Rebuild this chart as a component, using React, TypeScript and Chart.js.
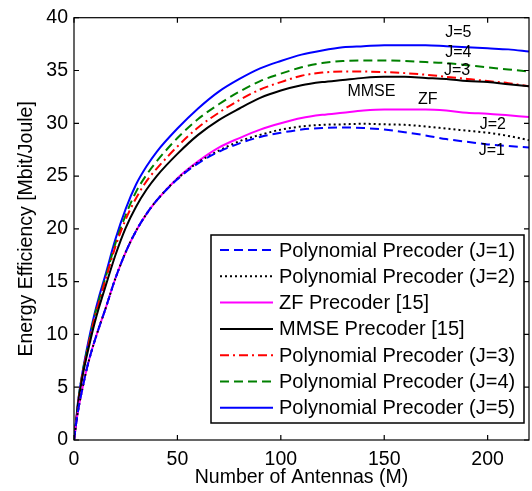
import { useEffect, useRef } from "react";
import { Chart, registerables } from "chart.js";

Chart.register(...registerables);

const antennas = [0, 1, 2, 4, 6, 8, 10, 12, 15, 20, 25, 30, 35, 40, 50, 60, 70, 80, 90, 100, 110, 120, 130, 140, 150, 160, 170, 180, 190, 200, 210, 220];

const polyJ1 = [0, 1.5, 2.8, 4.8, 6.6, 8.1, 9.4, 10.6, 12.3, 15.3, 17.8, 19.8, 21.4, 22.7, 24.7, 26.2, 27.3, 28.1, 28.7, 29.1, 29.4, 29.55, 29.6, 29.55, 29.4, 29.15, 28.85, 28.5, 28.25, 28.0, 27.85, 27.7];
const polyJ2 = [0, 1.5, 2.8, 4.8, 6.6, 8.1, 9.4, 10.6, 12.3, 15.3, 17.8, 19.8, 21.4, 22.7, 24.75, 26.3, 27.4, 28.3, 28.9, 29.4, 29.7, 29.85, 29.9, 29.95, 29.9, 29.85, 29.7, 29.5, 29.3, 29.1, 28.8, 28.4];
const zfPrecoder = [0, 1.5, 2.8, 4.8, 6.6, 8.1, 9.4, 10.6, 12.3, 15.3, 17.8, 19.8, 21.4, 22.7, 24.8, 26.4, 27.7, 28.6, 29.4, 30.0, 30.5, 30.8, 31.0, 31.2, 31.3, 31.3, 31.3, 31.2, 31.0, 30.9, 30.75, 30.6];
const mmsePrecoder = [0, 1.6, 3.4, 5.9, 7.8, 9.5, 11.1, 12.5, 14.4, 17.5, 20.1, 22.1, 23.7, 25.0, 27.1, 28.9, 30.3, 31.4, 32.4, 33.1, 33.6, 33.9, 34.1, 34.3, 34.4, 34.4, 34.3, 34.2, 34.0, 33.9, 33.7, 33.5];
const polyJ3 = [0, 1.7, 3.5, 6.1, 8.1, 9.9, 11.6, 13.0, 15.0, 18.3, 20.9, 22.9, 24.5, 25.7, 27.8, 29.6, 31.0, 32.2, 33.2, 33.9, 34.5, 34.8, 34.9, 34.9, 34.85, 34.75, 34.6, 34.4, 34.2, 34.0, 33.8, 33.5];
const polyJ4 = [0, 1.7, 3.6, 6.2, 8.2, 10.0, 11.8, 13.2, 15.2, 18.6, 21.3, 23.5, 25.1, 26.4, 28.6, 30.4, 31.8, 33.0, 34.0, 34.7, 35.3, 35.7, 35.9, 35.95, 35.95, 35.9, 35.8, 35.7, 35.5, 35.3, 35.1, 34.9];
const polyJ5 = [0, 1.8, 3.7, 6.3, 8.4, 10.3, 12.0, 13.5, 15.5, 19.0, 21.9, 24.2, 25.9, 27.3, 29.5, 31.4, 33.0, 34.2, 35.2, 35.9, 36.5, 36.9, 37.2, 37.3, 37.4, 37.4, 37.4, 37.3, 37.2, 37.1, 37.0, 36.8];

const seriesLabels = [
  "Polynomial Precoder (J=1)",
  "Polynomial Precoder (J=2)",
  "ZF Precoder [15]",
  "MMSE Precoder [15]",
  "Polynomial Precoder (J=3)",
  "Polynomial Precoder (J=4)",
  "Polynomial Precoder (J=5)",
];

const xTicks = [0, 50, 100, 150, 200];
const yTicks = [0, 5, 10, 15, 20, 25, 30, 35, 40];

const annoLabels = ["J=5", "J=4", "J=3", "MMSE", "ZF", "J=2", "J=1"];
const annoX = [185.8, 185.8, 185.2, 143.8, 171, 202.5, 202];
const annoY = [38.6, 36.7, 35.0, 33.0, 32.2, 29.9, 27.4];

const FONT = "'Liberation Sans', Arial, Helvetica, sans-serif";

const styles = [
  { color: "#0000ff", dash: [9, 5] },
  { color: "#000000", dash: [2, 3] },
  { color: "#ff00ff", dash: [] },
  { color: "#000000", dash: [] },
  { color: "#ff0000", dash: [9, 4, 2, 4] },
  { color: "#008000", dash: [9, 5] },
  { color: "#0000ff", dash: [] },
];

const seriesValues = [polyJ1, polyJ2, zfPrecoder, mmsePrecoder, polyJ3, polyJ4, polyJ5];

const framePlugin = {
  id: "frame",
  afterDraw(chart: any) {
    const { ctx, chartArea, scales } = chart;
    const { left, right, top, bottom } = chartArea;
    ctx.save();
    ctx.strokeStyle = "#000";
    ctx.lineWidth = 1.2;
    ctx.setLineDash([]);
    ctx.strokeRect(left, top, right - left, bottom - top);
    const tl = 5;
    ctx.beginPath();
    for (const v of xTicks) {
      const px = scales.x.getPixelForValue(v);
      ctx.moveTo(px, bottom);
      ctx.lineTo(px, bottom - tl);
      ctx.moveTo(px, top);
      ctx.lineTo(px, top + tl);
    }
    for (const v of yTicks) {
      const py = scales.y.getPixelForValue(v);
      ctx.moveTo(left, py);
      ctx.lineTo(left + tl, py);
      ctx.moveTo(right, py);
      ctx.lineTo(right - tl, py);
    }
    ctx.stroke();

    // annotations
    ctx.fillStyle = "#000";
    ctx.font = `16px ${FONT}`;
    ctx.textAlign = "center";
    ctx.textBaseline = "middle";
    annoLabels.forEach((t, i) => {
      ctx.fillText(t, scales.x.getPixelForValue(annoX[i]), scales.y.getPixelForValue(annoY[i]));
    });

    // legend
    const bx = 211, by = 235, bw = 313, bh = 188;
    ctx.fillStyle = "#fff";
    ctx.fillRect(bx, by, bw, bh);
    ctx.strokeStyle = "#000";
    ctx.lineWidth = 1.5;
    ctx.strokeRect(bx, by, bw, bh);
    ctx.font = `20px ${FONT}`;
    ctx.textAlign = "left";
    ctx.textBaseline = "middle";
    chart.data.datasets.forEach((ds: any, i: number) => {
      const y = by + 15 + i * 26.3;
      ctx.strokeStyle = ds.borderColor;
      ctx.lineWidth = 2;
      ctx.setLineDash(ds.borderDash || []);
      ctx.beginPath();
      ctx.moveTo(bx + 9, y);
      ctx.lineTo(bx + 62, y);
      ctx.stroke();
      ctx.setLineDash([]);
      ctx.fillStyle = "#000";
      ctx.fillText(ds.label, bx + 68, y + 1);
    });
    ctx.restore();
  },
};

export default function App() {
  const ref = useRef<HTMLCanvasElement | null>(null);
  useEffect(() => {
    if (!ref.current) return;
    const chart = new Chart(ref.current, {
      type: "line",
      data: {
        datasets: seriesValues.map((vals, i) => ({
          label: seriesLabels[i],
          data: antennas.map((x, k) => ({ x, y: vals[k] })),
          borderColor: styles[i].color,
          borderDash: styles[i].dash,
          borderWidth: 2,
          pointRadius: 0,
          fill: false,
          cubicInterpolationMode: "monotone" as const,
        })),
      },
      options: {
        animation: false,
        responsive: false,
        maintainAspectRatio: false,
        layout: { padding: { top: 17, right: 3, left: 0, bottom: 0 } },
        plugins: { legend: { display: false }, tooltip: { enabled: false } },
        scales: {
          x: {
            type: "linear",
            min: 0,
            max: 220,
            afterBuildTicks: (s: any) => {
              s.ticks = xTicks.map((v) => ({ value: v }));
            },
            afterFit: (s: any) => {
              s.height = 51;
            },
            grid: { display: false, drawTicks: false },
            border: { display: false },
            ticks: { color: "#000", padding: 8, font: { family: FONT, size: 19.5 } },
            title: {
              display: true,
              text: "Number of Antennas (M)",
              color: "#000",
              font: { family: FONT, size: 19.5 },
              padding: { top: 0, bottom: 2 },
            },
          },
          y: {
            type: "linear",
            min: 0,
            max: 40,
            afterBuildTicks: (s: any) => {
              s.ticks = yTicks.map((v) => ({ value: v }));
            },
            afterFit: (s: any) => {
              s.width = 74;
            },
            grid: { display: false, drawTicks: false },
            border: { display: false },
            ticks: { color: "#000", padding: 6, font: { family: FONT, size: 19.5 } },
            title: {
              display: true,
              text: "Energy Efficiency [Mbit/Joule]",
              color: "#000",
              font: { family: FONT, size: 19.5 },
              padding: { top: 15, bottom: 0 },
            },
          },
        },
      },
      plugins: [framePlugin],
    });
    return () => chart.destroy();
  }, []);
  return (
    <div style={{ position: "fixed", left: 0, top: 0, width: 532, height: 491, background: "#fff" }}>
      <canvas ref={ref} width={532} height={491} style={{ width: 532, height: 491 }} />
    </div>
  );
}
